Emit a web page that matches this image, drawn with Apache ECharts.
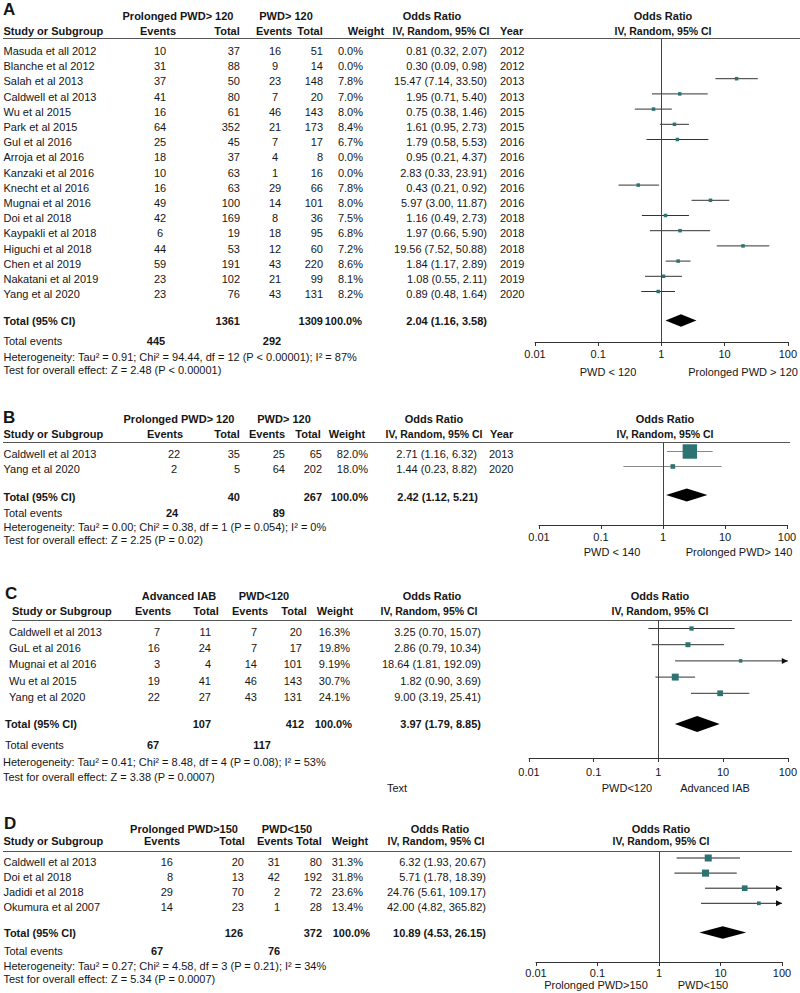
<!DOCTYPE html>
<html>
<head>
<meta charset="utf-8">
<script src="https://cdn.jsdelivr.net/npm/echarts@6/dist/echarts.min.js"></script>
<style>
html,body{margin:0;padding:0;background:#fff;}
#chart{width:800px;height:993px;}
</style>
</head>
<body>
<div id="chart"></div>
<script>
// ---------------- DATA ----------------
const tickLabels = ['0.01', '0.1', '1', '10', '100'];

// Panel A
const studiesA = ['Masuda et all 2012','Blanche et al 2012','Salah et al 2013','Caldwell et al 2013','Wu et al 2015','Park et al 2015','Gul et al 2016','Arroja et al 2016','Kanzaki et al 2016','Knecht et al 2016','Mugnai et al 2016','Doi et al 2018','Kaypakli et al 2018','Higuchi et al 2018','Chen et al 2019','Nakatani et al 2019','Yang et al 2020'];
const ev1A = [10,31,37,41,16,64,25,18,10,16,49,42,6,44,59,23,23];
const tot1A = [37,88,50,80,61,352,45,37,63,63,100,169,19,53,191,102,76];
const ev2A = [16,9,23,7,46,21,7,4,1,29,14,8,18,12,43,21,43];
const tot2A = [51,14,148,20,143,173,17,8,16,66,101,36,95,60,220,99,131];
const weightA = [0,0,7.8,7.0,8.0,8.4,6.7,0,0,7.8,8.0,7.5,6.8,7.2,8.6,8.1,8.2];
const orA = [0.81,0.30,15.47,1.95,0.75,1.61,1.79,0.95,2.83,0.43,5.97,1.16,1.97,19.56,1.84,1.08,0.89];
const loA = [0.32,0.09,7.14,0.71,0.38,0.95,0.58,0.21,0.33,0.21,3.00,0.49,0.66,7.52,1.17,0.55,0.48];
const hiA = [2.07,0.98,33.50,5.40,1.46,2.73,5.53,4.37,23.91,0.92,11.87,2.73,5.90,50.88,2.89,2.11,1.64];
const yearA = [2012,2012,2013,2013,2015,2015,2016,2016,2016,2016,2016,2018,2018,2018,2019,2019,2020];
const totalA = [1361, 1309, 100.0, 2.04, 1.16, 3.58];
const totalEventsA = [445, 292];
const groupsA = ['Prolonged PWD> 120', 'PWD> 120'];
const sidesA = ['PWD < 120', 'Prolonged PWD > 120'];
const statsA = ['Heterogeneity: Tau\u00B2 = 0.91; Chi\u00B2 = 94.44, df = 12 (P < 0.00001); I\u00B2 = 87%', 'Test for overall effect: Z = 2.48 (P < 0.00001)'];

// Panel B
const studiesB = ['Caldwell et al 2013','Yang et al 2020'];
const ev1B = [22,2];
const tot1B = [35,5];
const ev2B = [25,64];
const tot2B = [65,202];
const weightB = [82.0,18.0];
const orB = [2.71,1.44];
const loB = [1.16,0.23];
const hiB = [6.32,8.82];
const yearB = [2013,2020];
const totalB = [40, 267, 100.0, 2.42, 1.12, 5.21];
const totalEventsB = [24, 89];
const groupsB = ['Prolonged PWD> 120', 'PWD> 120'];
const sidesB = ['PWD < 140', 'Prolonged PWD> 140'];
const statsB = ['Heterogeneity: Tau\u00B2 = 0.00; Chi\u00B2 = 0.38, df = 1 (P = 0.054); I\u00B2 = 0%', 'Test for overall effect: Z = 2.25 (P = 0.02)'];

// Panel C
const studiesC = ['Caldwell et al 2013','GuL et al 2016','Mugnai et al 2016','Wu et al 2015','Yang et al 2020'];
const ev1C = [7,16,3,19,22];
const tot1C = [11,24,4,41,27];
const ev2C = [7,7,14,46,43];
const tot2C = [20,17,101,143,131];
const weightC = [16.3,19.8,9.19,30.7,24.1];
const orC = [3.25,2.86,18.64,1.82,9.00];
const loC = [0.70,0.79,1.81,0.90,3.19];
const hiC = [15.07,10.34,192.09,3.69,25.41];
const totalC = [107, 412, 100.0, 3.97, 1.79, 8.85];
const totalEventsC = [67, 117];
const groupsC = ['Advanced IAB', 'PWD<120'];
const sidesC = ['PWD<120', 'Advanced IAB'];
const statsC = ['Heterogeneity: Tau\u00B2 = 0.41; Chi\u00B2 = 8.48, df = 4 (P = 0.08); I\u00B2 = 53%', 'Test for overall effect: Z = 3.38 (P = 0.0007)'];
const noteC = 'Text';

// Panel D
const studiesD = ['Caldwell et al 2013','Doi et al 2018','Jadidi et al 2018','Okumura et al 2007'];
const ev1D = [16,8,29,14];
const tot1D = [20,13,70,23];
const ev2D = [31,42,2,1];
const tot2D = [80,192,72,28];
const weightD = [31.3,31.8,23.6,13.4];
const orD = [6.32,5.71,24.76,42.00];
const loD = [1.93,1.78,5.61,4.82];
const hiD = [20.67,18.39,109.17,365.82];
const totalD = [126, 372, 100.0, 10.89, 4.53, 26.15];
const totalEventsD = [67, 76];
const groupsD = ['Prolonged PWD>150', 'PWD<150'];
const sidesD = ['Prolonged PWD>150', 'PWD<150'];
const statsD = ['Heterogeneity: Tau\u00B2 = 0.27; Chi\u00B2 = 4.58, df = 3 (P = 0.21); I\u00B2 = 34%', 'Test for overall effect: Z = 5.34 (P = 0.0007)'];

const panels = [
  {letter:'A', studies:studiesA, ev1:ev1A, tot1:tot1A, ev2:ev2A, tot2:tot2A, w:weightA, or:orA, lo:loA, hi:hiA, year:yearA, total:totalA, events:totalEventsA, groups:groupsA, sides:sidesA, stats:statsA, notes:[]},
  {letter:'B', studies:studiesB, ev1:ev1B, tot1:tot1B, ev2:ev2B, tot2:tot2B, w:weightB, or:orB, lo:loB, hi:hiB, year:yearB, total:totalB, events:totalEventsB, groups:groupsB, sides:sidesB, stats:statsB, notes:[]},
  {letter:'C', studies:studiesC, ev1:ev1C, tot1:tot1C, ev2:ev2C, tot2:tot2C, w:weightC, or:orC, lo:loC, hi:hiC, year:null, total:totalC, events:totalEventsC, groups:groupsC, sides:sidesC, stats:statsC, notes:[noteC]},
  {letter:'D', studies:studiesD, ev1:ev1D, tot1:tot1D, ev2:ev2D, tot2:tot2D, w:weightD, or:orD, lo:loD, hi:hiD, year:null, total:totalD, events:totalEventsD, groups:groupsD, sides:sidesD, stats:statsD, notes:[]}
];

// ---------------- LAYOUT (pixels) ----------------
const layouts = [
  { // A
    letter:[3, 9.5], grpY:16, hdrY:30.5, line:[3, 800, 38.5],
    row0:48.3, step:15.2, textOff:2.7, totalY:320.5, totalTextY:321, teY:341, statY:[357, 370],
    axisY:342, x0:535, x1:791, labelMargin:6, subY:372,
    studyX:3.5, hdrX:3.5, totX:3.5, statX:3.5,
    grpX:[178, 286],
    hdr:{ev1:158, tot1:227, ev2:274, tot2:310, w:366, or1:432, or2:441, year:500, plot:663},
    col:{ev1:[160,'center'], tot1:[240,'right'], ev2:[275,'center'], tot2:[323,'right'], w:[363,'right'], or:[487,'right'], year:[500,'left']},
    tot:{tot1:[240,'right'], tot2:[323,'right'], w:[362,'right'], or:[487,'right']},
    te:{ev1:[156,'center'], ev2:[272,'center']},
    subX:[608, 743], dH:6.3, ci:'#333', sizeK:0.53, notePos:[]
  },
  { // B
    letter:[3, 417.5], grpY:419, hdrY:434, line:[3, 790, 442.5],
    row0:451.5, step:15, textOff:2, totalY:495, totalTextY:497, teY:513, statY:[527, 540],
    axisY:525, x0:539, x1:787, labelMargin:6, subY:552,
    studyX:3.5, hdrX:3.5, totX:3.5, statX:3.5,
    grpX:[179, 284],
    hdr:{ev1:165, tot1:227, ev2:267, tot2:308, w:347, or1:434, or2:434, year:490, plot:665},
    col:{ev1:[174,'center'], tot1:[240,'right'], ev2:[285,'right'], tot2:[322,'right'], w:[368,'right'], or:[477,'right'], year:[489,'left']},
    tot:{tot1:[240,'right'], tot2:[322,'right'], w:[368,'right'], or:[478,'right']},
    te:{ev1:[172,'center'], ev2:[285,'right']},
    subX:[612, 739], dH:6.5, ci:'#888', sizeK:0.53, notePos:[]
  },
  { // C
    letter:[5, 593.5], grpY:596, hdrY:611, line:[12, 792, 620.5],
    row0:628.5, step:16.2, textOff:3.5, totalY:724, totalTextY:724, teY:745, statY:[762, 777],
    axisY:758, x0:529, x1:790, labelMargin:8, subY:788,
    studyX:9, hdrX:12, totX:5, statX:3,
    grpX:[179, 264],
    hdr:{ev1:153, tot1:206, ev2:250, tot2:294, w:335, or1:432, or2:429, year:null, plot:660},
    col:{ev1:[160,'right'], tot1:[211,'right'], ev2:[257,'right'], tot2:[302,'right'], w:[350,'right'], or:[481,'right']},
    tot:{tot1:[211,'right'], tot2:[304,'right'], w:[352,'right'], or:[481,'right']},
    te:{ev1:[153,'center'], ev2:[262,'center']},
    subX:[627, 715], dH:8, ci:'#333', sizeK:0.53, notePos:[[387, 788]]
  },
  { // D
    letter:[4, 823.5], grpY:829, hdrY:841, line:[3, 792, 851.5],
    row0:858, step:15.1, textOff:3.5, totalY:932.5, totalTextY:933, teY:951, statY:[966, 979],
    axisY:962, x0:536, x1:782, labelMargin:5, subY:985,
    studyX:3.5, hdrX:3.5, totX:4, statX:3.5,
    grpX:[184, 287],
    hdr:{ev1:162, tot1:232, ev2:275, tot2:309, w:350, or1:440, or2:436, year:null, plot:661},
    col:{ev1:[173,'right'], tot1:[244,'right'], ev2:[280,'right'], tot2:[322,'right'], w:[363,'right'], or:[486,'right']},
    tot:{tot1:[243,'right'], tot2:[322,'right'], w:[370,'right'], or:[486,'right']},
    te:{ev1:[157,'center'], ev2:[274,'center']},
    subX:[596, 703], dH:6.2, ci:'#222', sizeK:0.53, notePos:[]
  }
];

// ---------------- HELPERS ----------------
const FONT = '"Liberation Sans", Arial, Helvetica, sans-serif';
const TXT = '#161616';
const TEAL = '#2c7371';
const fmt2 = v => v.toFixed(2);
const fmtOR = (o, l, h) => fmt2(o) + ' (' + fmt2(l) + ', ' + fmt2(h) + ')';
const fmtW = w => (Math.abs(w * 10 - Math.round(w * 10)) < 1e-9 ? w.toFixed(1) : String(w)) + '%';

function txt(x, y, s, align, bold, size) {
  align = align || 'left';
  return {
    type: 'text', x: x, y: y, silent: true, z: 10,
    style: {
      text: String(s), fill: TXT,
      font: (bold ? 'bold ' : '') + (size || 11) + 'px ' + FONT,
      textAlign: align, align: align,
      textVerticalAlign: 'middle', verticalAlign: 'middle'
    }
  };
}
function hline(x1, x2, y, color) {
  return {type: 'line', silent: true, z: 5, shape: {x1: x1, y1: y, x2: x2, y2: y}, style: {stroke: color || '#444', lineWidth: 1}};
}

// ---------------- BUILD ----------------
const option = {animation: false, grid: [], xAxis: [], yAxis: [], series: [], graphic: {elements: []}};
const G = option.graphic.elements;

panels.forEach((P, k) => {
  const L = layouts[k];
  const rowOf = y => (y - L.row0) / L.step;
  const textY = i => L.row0 + i * L.step + L.textOff;

  option.grid.push({left: L.x0, width: L.x1 - L.x0, top: L.line[2], height: L.axisY - L.line[2], containLabel: false});
  option.xAxis.push({
    type: 'log', logBase: 10, min: 0.01, max: 100, gridIndex: k, position: 'bottom',
    axisLine: {show: true, onZero: false, lineStyle: {color: '#333', width: 1}},
    axisTick: {show: true, length: 4, lineStyle: {color: '#333', width: 1}},
    minorTick: {show: false},
    splitLine: {show: false},
    axisLabel: {
      show: true, margin: L.labelMargin, color: TXT, fontSize: 11, fontFamily: FONT,
      showMinLabel: true, showMaxLabel: true,
      formatter: v => tickLabels[Math.round(Math.log10(v)) + 2]
    }
  });
  option.yAxis.push({type: 'value', inverse: true, gridIndex: k, show: false, min: rowOf(L.line[2]), max: rowOf(L.axisY)});

  const idx = P.studies.map((_, i) => i).filter(i => P.w[i] > 0);

  // confidence intervals
  option.series.push({
    type: 'custom', xAxisIndex: k, yAxisIndex: k, silent: true, z: 2,
    data: idx.map(i => [P.lo[i], P.hi[i], i]),
    encode: {x: [0, 1], y: 2},
    renderItem: (params, api) => {
      const lo = api.value(0), hi = api.value(1), r = api.value(2);
      const p1 = api.coord([Math.max(lo, 0.01), r]);
      const p2 = api.coord([Math.min(hi, 100), r]);
      const children = [{type: 'line', shape: {x1: p1[0], y1: p1[1], x2: p2[0], y2: p2[1]}, style: {stroke: L.ci, lineWidth: 1}}];
      if (hi > 100) {
        children.push({type: 'polygon', shape: {points: [[p2[0], p2[1]], [p2[0] - 6, p2[1] - 3], [p2[0] - 6, p2[1] + 3]]}, style: {fill: '#111'}});
      }
      return {type: 'group', children: children};
    }
  });

  // study squares + reference line at OR = 1
  option.series.push({
    type: 'scatter', xAxisIndex: k, yAxisIndex: k, silent: true, z: 3,
    data: idx.map(i => [P.or[i], i, P.w[i]]),
    symbol: 'rect',
    symbolSize: v => Math.max(3.5, L.sizeK * Math.pow(v[2], 0.75)),
    itemStyle: {color: TEAL, opacity: 1},
    emphasis: {disabled: true},
    markLine: {
      silent: true, symbol: ['none', 'none'], animation: false,
      label: {show: false},
      lineStyle: {color: '#444', width: 1, type: 'solid'},
      emphasis: {disabled: true},
      data: [{xAxis: 1}]
    }
  });

  // pooled diamond
  const tRow = rowOf(L.totalY);
  option.series.push({
    type: 'custom', xAxisIndex: k, yAxisIndex: k, silent: true, z: 4,
    data: [[P.total[4], P.total[5], tRow, P.total[3]]],
    encode: {x: [0, 1, 3], y: 2},
    renderItem: (params, api) => {
      const r = api.value(2);
      const a = api.coord([api.value(0), r]);
      const b = api.coord([api.value(1), r]);
      const c = api.coord([api.value(3), r]);
      return {type: 'polygon', shape: {points: [a, [c[0], c[1] - L.dH], b, [c[0], c[1] + L.dH]]}, style: {fill: '#000'}};
    }
  });

  // ---- table text ----
  G.push(txt(L.letter[0], L.letter[1], P.letter, 'left', true, 17));
  G.push(txt(L.grpX[0], L.grpY, P.groups[0], 'center', true));
  G.push(txt(L.grpX[1], L.grpY, P.groups[1], 'center', true));
  G.push(txt(L.hdrX, L.hdrY, 'Study or Subgroup', 'left', true));
  G.push(txt(L.hdr.ev1, L.hdrY, 'Events', 'center', true));
  G.push(txt(L.hdr.tot1, L.hdrY, 'Total', 'center', true));
  G.push(txt(L.hdr.ev2, L.hdrY, 'Events', 'center', true));
  G.push(txt(L.hdr.tot2, L.hdrY, 'Total', 'center', true));
  G.push(txt(L.hdr.w, L.hdrY, 'Weight', 'center', true));
  G.push(txt(L.hdr.or1, L.grpY, 'Odds Ratio', 'center', true));
  G.push(txt(L.hdr.or2, L.hdrY, 'IV, Random, 95% CI', 'center', true, 10.5));
  if (P.year) G.push(txt(L.hdr.year, L.hdrY, 'Year', 'left', true));
  G.push(txt(L.hdr.plot, L.grpY, 'Odds Ratio', 'center', true));
  G.push(txt(L.hdr.plot, L.hdrY, 'IV, Random, 95% CI', 'center', true, 10.5));
  G.push(hline(L.line[0], L.line[1], L.line[2], '#555'));

  P.studies.forEach((s, i) => {
    const y = textY(i);
    G.push(txt(L.studyX, y, s, 'left'));
    G.push(txt(L.col.ev1[0], y, P.ev1[i], L.col.ev1[1]));
    G.push(txt(L.col.tot1[0], y, P.tot1[i], L.col.tot1[1]));
    G.push(txt(L.col.ev2[0], y, P.ev2[i], L.col.ev2[1]));
    G.push(txt(L.col.tot2[0], y, P.tot2[i], L.col.tot2[1]));
    G.push(txt(L.col.w[0], y, fmtW(P.w[i]), L.col.w[1]));
    G.push(txt(L.col.or[0], y, fmtOR(P.or[i], P.lo[i], P.hi[i]), L.col.or[1]));
    if (P.year) G.push(txt(L.col.year[0], y, P.year[i], L.col.year[1]));
  });

  const ty = L.totalTextY;
  G.push(txt(L.totX, ty, 'Total (95% CI)', 'left', true));
  G.push(txt(L.tot.tot1[0], ty, P.total[0], L.tot.tot1[1], true));
  G.push(txt(L.tot.tot2[0], ty, P.total[1], L.tot.tot2[1], true));
  G.push(txt(L.tot.w[0], ty, fmtW(P.total[2]), L.tot.w[1], true));
  G.push(txt(L.tot.or[0], ty, fmtOR(P.total[3], P.total[4], P.total[5]), L.tot.or[1], true));

  G.push(txt(L.totX, L.teY, 'Total events', 'left'));
  G.push(txt(L.te.ev1[0], L.teY, P.events[0], L.te.ev1[1], true));
  G.push(txt(L.te.ev2[0], L.teY, P.events[1], L.te.ev2[1], true));

  G.push(txt(L.statX, L.statY[0], P.stats[0], 'left'));
  G.push(txt(L.statX, L.statY[1], P.stats[1], 'left'));

  G.push(txt(L.subX[0], L.subY, P.sides[0], 'center'));
  G.push(txt(L.subX[1], L.subY, P.sides[1], 'center'));

  P.notes.forEach((n, j) => G.push(txt(L.notePos[j][0], L.notePos[j][1], n, 'left')));
});

const chart = echarts.init(document.getElementById('chart'), null, {renderer: 'svg', width: 800, height: 993});
chart.setOption(option);
</script>
</body>
</html>
